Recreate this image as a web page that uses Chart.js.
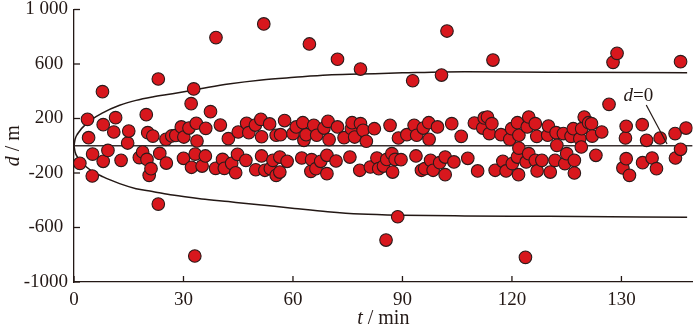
<!DOCTYPE html>
<html><head><meta charset="utf-8">
<script src="https://cdn.jsdelivr.net/npm/chart.js@4/dist/chart.umd.min.js"></script>
<style>html,body{margin:0;padding:0;background:#fff;}#wrap{width:700px;height:331px;}</style>
</head><body><div id="wrap"><canvas id="c" width="700" height="331"></canvas></div>
<script>
// ---- data ----
const tValues = [1.6,3.7,4.0,5.0,5.1,7.8,8.0,8.0,9.3,10.9,11.4,12.9,14.7,15.0,17.9,18.8,19.8,20.0,20.2,20.6,21.1,21.6,23.1,23.5,23.1,25.2,25.3,26.8,27.9,29.4,30.1,30.0,31.5,32.1,32.8,32.2,33.2,33.5,33.7,33.1,35.1,36.0,36.1,37.4,38.8,38.9,40.1,40.7,41.2,42.3,43.2,44.3,44.8,45.0,
47.3,47.9,47.1,49.7,49.8,51.2,51.4,51.4,52.0,52.3,53.6,53.8,54.5,55.4,55.4,56.4,56.6,56.4,57.7,58.4,60.0,60.9,62.4,62.7,63.0,63.6,64.5,64.9,65.1,65.7,66.3,66.5,67.6,68.5,69.3,69.3,69.6,69.9,71.8,72.2,72.2,74.0,75.6,76.0,76.2,76.9,78.3,78.5,78.5,79.2,80.1,81.2,82.3,83.0,83.5,84.8,
85.5,85.7,86.6,87.1,87.3,88.0,88.7,88.9,89.6,91.2,92.8,93.2,93.7,93.9,95.2,95.7,96.1,97.2,97.3,97.7,98.4,99.6,100.2,100.7,101.7,101.7,102.2,103.5,104.1,106.1,107.9,109.7,110.6,112.0,112.4,113.3,113.8,114.5,114.8,
115.4,117.0,117.5,118.4,119.4,119.9,120.1,121.5,121.5,121.9,121.9,121.8,123.7,123.9,124.2,124.6,124.6,126.4,126.4,126.8,126.9,128.2,129.8,130.0,130.5,131.8,132.1,132.3,134.1,134.5,135.0,136.2,136.8,137.1,137.1,138.6,139.0,139.1,139.8,141.0,141.8,142.0,143.0,144.6,
146.6,147.7,148.8,150.4,151.1,151.3,151.3,152.2,155.7,155.8,156.9,158.4,159.6,160.6,164.7,164.8,166.2,166.2,167.7];
const dValues = [-129,194,59,-222,-61,397,155,-114,-34,101,206,-107,20,108,-87,-46,228,-100,96,-217,-168,71,490,-56,-428,47,-127,72,76,138,64,-92,130,309,417,-158,-61,165,35,-809,-149,-75,128,250,-166,794,152,-100,-166,52,-129,-198,-63,101,
165,96,-107,152,-176,194,66,-75,894,-180,160,-168,-107,77,-217,-83,81,-193,185,-114,89,138,-90,169,40,81,747,-188,-102,150,-168,77,-114,130,-70,-205,179,45,-112,138,635,59,-83,125,169,64,-180,162,563,113,33,-156,125,-90,-168,-149,
-692,-100,150,-58,-193,-100,-521,57,-102,81,477,150,-75,77,-180,130,-168,169,47,-107,-180,138,-124,519,-83,-212,842,162,-119,69,-92,167,-185,130,204,211,89,162,629,
-180,81,-114,-185,47,125,-131,169,-83,77,-17,-212,-819,-119,138,211,-58,162,-107,69,-185,-107,77,145,-193,-107,96,3,89,-131,-58,69,125,-107,-200,52,-9,125,211,169,162,71,-70,101,
304,612,678,-163,57,143,-95,-217,155,-124,40,-90,-168,57,89,-90,-26,617,130];

const curveT = [0,0.3,1,3.4,8,12.5,17,21.5,27,35,42.3,51.4,60.4,69.5,78.5,90,107,130,168];
const upperD = [0,48,88,162,243,297,333,358,382,420,453,483,502,519,526,535,544,540,536];
const lowerD = [0,-46,-85,-156,-229,-278,-315,-335,-362,-390,-410,-435,-460,-484,-501,-510,-515,-518,-525];
const zeroT = [0,169.5];
const zeroD = [0,0];

const xTickValues = [0,30,60,90,120,150];
const xTickLabels = ["0","30","60","90","120","130"];
const yTickValues = [-1000,-600,-200,200,600,1000];
const yTickLabels = ["-1000","-600","-200","200","600","1 000"];

const yTitleParts = [{text:"d",italic:true},{text:" / m",italic:false}];
const xTitleParts = [{text:"t",italic:true},{text:" / min",italic:false}];
const annParts = [{text:"d",italic:true},{text:"=0",italic:false}];
const annTextPos = [150.6, 328];
const annLine = [[156.8, 299],[162.5, 13]];

// ---- chart ----
const FONT = '"Liberation Serif", "Times New Roman", serif';
const INK = '#231815';
const pts = tValues.map((t,i)=>({x:t,y:dValues[i]}));
const toXY = (xs,ys)=>xs.map((x,i)=>({x:x,y:ys[i]}));

function drawMixed(ctx, parts, x, y, size, align){
  const widths = parts.map(p=>{ctx.font=(p.italic?'italic ':'')+size+'px '+FONT;return ctx.measureText(p.text).width;});
  const total = widths.reduce((a,b)=>a+b,0);
  let cx = align==='center' ? x-total/2 : x;
  parts.forEach((p,i)=>{ctx.font=(p.italic?'italic ':'')+size+'px '+FONT;ctx.fillText(p.text,cx,y);cx+=widths[i];});
}

const decor = {
  id:'decor',
  afterDraw(chart){
    const ctx = chart.ctx, a = chart.chartArea, xs = chart.scales.x, ys = chart.scales.y;
    ctx.save();
    ctx.strokeStyle = INK; ctx.lineWidth = 1.3;
    xTickValues.forEach(v=>{const px=xs.getPixelForValue(v);ctx.beginPath();ctx.moveTo(px,a.bottom);ctx.lineTo(px,a.bottom-6);ctx.stroke();});
    yTickValues.forEach(v=>{const py=ys.getPixelForValue(v);ctx.beginPath();ctx.moveTo(a.left,py);ctx.lineTo(a.left+6,py);ctx.stroke();});
    ctx.lineWidth = 1.2;
    ctx.beginPath();
    ctx.moveTo(xs.getPixelForValue(annLine[0][0]), ys.getPixelForValue(annLine[0][1]));
    ctx.lineTo(xs.getPixelForValue(annLine[1][0]), ys.getPixelForValue(annLine[1][1]));
    ctx.stroke();
    ctx.fillStyle = INK; ctx.textBaseline='alphabetic'; ctx.textAlign='left';
    drawMixed(ctx, annParts, xs.getPixelForValue(annTextPos[0]), ys.getPixelForValue(annTextPos[1]), 19, 'left');
    drawMixed(ctx, xTitleParts, (a.left+a.right)/2, 324, 20, 'center');
    ctx.translate(19,(a.top+a.bottom)/2);
    ctx.rotate(-Math.PI/2);
    drawMixed(ctx, yTitleParts, 0, 0, 20, 'center');
    ctx.restore();
  }
};

new Chart(document.getElementById('c'),{
  type:'scatter',
  data:{datasets:[
    {label:'d',data:pts,order:0,backgroundColor:'#d8171d',borderColor:'#2b1b1b',borderWidth:1.1,pointRadius:6.3,pointHoverRadius:6.3},
    {label:'upper',type:'line',data:toXY(curveT,upperD),order:2,borderColor:INK,borderWidth:1.5,pointRadius:0,fill:false,cubicInterpolationMode:'monotone'},
    {label:'lower',type:'line',data:toXY(curveT,lowerD),order:3,borderColor:INK,borderWidth:1.5,pointRadius:0,fill:false,cubicInterpolationMode:'monotone'},
    {label:'zero',type:'line',data:toXY(zeroT,zeroD),order:4,borderColor:'#3a3030',borderWidth:1.3,pointRadius:0,fill:false}
  ]},
  options:{
    responsive:false,animation:false,devicePixelRatio:1,
    layout:{padding:{left:0,right:2,top:9.5,bottom:0}},
    plugins:{legend:{display:false},tooltip:{enabled:false}},
    scales:{
      x:{type:'linear',min:0,max:169.5,
        grid:{display:false,drawTicks:false},
        border:{display:true,color:INK,width:1.3},
        afterBuildTicks:s=>{s.ticks=xTickValues.map(v=>({value:v}));},
        afterFit:s=>{s.height=49;s.paddingLeft=0;s.paddingRight=0;},
        ticks:{padding:7,color:INK,font:{family:FONT,size:19},maxRotation:0,autoSkip:false,
          callback:(v,i)=>xTickLabels[i]}
      },
      y:{type:'linear',min:-1000,max:1000,
        grid:{display:false,drawTicks:false},
        border:{display:true,color:INK,width:1.3},
        afterBuildTicks:s=>{s.ticks=yTickValues.map(v=>({value:v}));},
        afterFit:s=>{s.width=74;s.paddingTop=0;s.paddingBottom=0;},
        ticks:{padding:6,color:INK,font:{family:FONT,size:19},autoSkip:false,
          callback:(v,i)=>(i===0||i===yTickLabels.length-1)?yTickLabels[i]:yTickLabels[i]+' '}
      }
    }
  },
  plugins:[decor]
});
</script></body></html>
